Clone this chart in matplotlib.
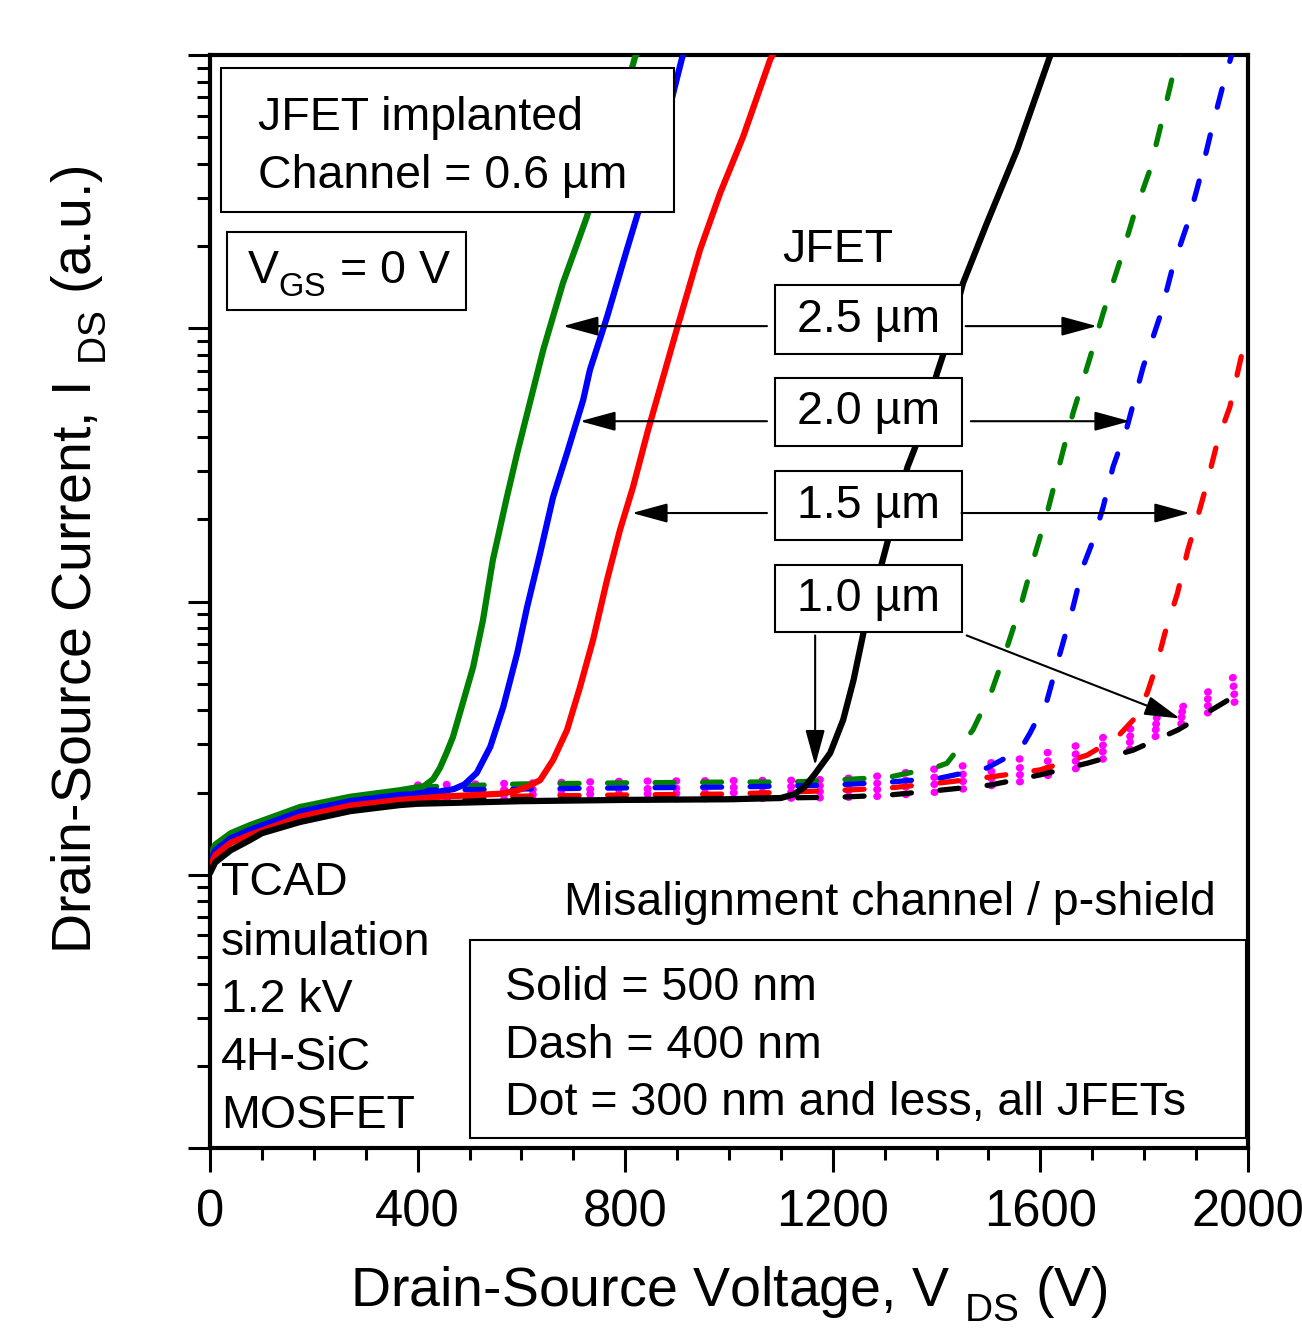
import matplotlib.pyplot as plt
from matplotlib.patches import Rectangle
from matplotlib.ticker import MultipleLocator, LogLocator, NullFormatter

plt.rcParams['font.family'] = ['Liberation Sans', 'DejaVu Sans']
plt.rcParams['mathtext.fontset'] = 'custom'
plt.rcParams['mathtext.rm'] = 'Liberation Sans'
plt.rcParams['mathtext.it'] = 'Liberation Sans:italic'
plt.rcParams['mathtext.bf'] = 'Liberation Sans:bold'

# drop subscripts a bit lower, like the original figure
try:
    import matplotlib._mathtext as _mt
    _mt.FontConstantsBase.sub1 = 0.55
    _mt.FontConstantsBase.sub2 = 0.7
except Exception:
    pass

# JFET widths: 2.5, 2.0, 1.5, 1.0 um
colors = ['#008000', '#0000ff', '#ff0000', '#000000']

# solid = 500 nm misalignment
v_sol_25 = [0, 10, 40, 77, 173, 270, 366, 412, 430, 443, 456, 468, 487, 507, 526, 545, 572, 592, 603, 642, 680, 726, 757, 790, 819, 830]
i_sol_25 = [11.6, 12.9, 14.2, 15.2, 17.7, 19.3, 20.4, 21.1, 22.4, 24.6, 28.0, 31.9, 42.5, 57.6, 85.6, 142, 241, 350, 424, 833, 1464, 2554, 4025, 6292, 9833, 11000]
v_sol_20 = [0, 10, 40, 77, 173, 270, 366, 424, 470, 490, 514, 540, 565, 592, 611, 636, 661, 688, 719, 732, 765, 803, 842, 881, 910, 925]
i_sol_20 = [11.1, 12.3, 13.6, 14.6, 17.0, 18.6, 19.6, 19.9, 20.6, 21.4, 23.6, 29.4, 41.1, 64.8, 95.5, 150, 241, 350, 546, 704, 1100, 1934, 3401, 5932, 9833, 11500]
v_sol_15 = [0, 10, 40, 77, 173, 270, 366, 443, 559, 590, 611, 636, 661, 688, 713, 738, 765, 790, 815, 844, 899, 944, 983, 1027, 1079, 1095]
i_sol_15 = [10.7, 11.8, 13.1, 14.0, 16.3, 17.9, 18.8, 19.3, 19.8, 20.3, 21.0, 22.2, 26.3, 33.9, 48.7, 72.3, 120, 183, 262, 424, 985, 1934, 3126, 5011, 9587, 11000]
v_sol_10 = [0, 10, 40, 77, 100, 173, 270, 366, 400, 600, 800, 1000, 1100, 1125, 1145, 1165, 1195, 1220, 1240, 1259, 1286, 1305, 1344, 1359, 1401, 1420, 1451, 1497, 1555, 1618, 1630]
i_sol_10 = [10.15, 11.1, 12.3, 13.4, 14.2, 15.6, 17.1, 18.0, 18.2, 18.6, 18.8, 18.9, 19.1, 19.7, 20.9, 23.3, 27.9, 36.9, 51.6, 76.7, 120, 164, 311, 368, 686, 883, 1464, 2428, 4490, 9833, 11000]

# dash = 400 nm misalignment
v_dsh_25 = [400, 600, 800, 1000, 1120, 1203, 1310, 1400, 1420, 1470, 1507, 1536, 1565, 1590, 1613, 1644, 1663, 1696, 1721, 1754, 1779, 1811, 1836, 1859, 1875]
i_dsh_25 = [20.95, 21.5, 21.7, 21.85, 21.85, 22.2, 22.8, 24.8, 25.6, 33.9, 47.5, 68.2, 101, 150, 211, 358, 490, 785, 1137, 1777, 2554, 3794, 5932, 9040, 11000]
v_dsh_20 = [400, 600, 800, 1000, 1200, 1310, 1407, 1497, 1561, 1580, 1613, 1638, 1663, 1682, 1702, 1721, 1740, 1767, 1798, 1830, 1855, 1884, 1908, 1931, 1956, 1975]
i_dsh_20 = [20.4, 20.6, 20.8, 20.95, 21.3, 21.85, 22.6, 24.6, 28.6, 33.0, 43.6, 64.8, 95.5, 134, 168, 222, 311, 435, 722, 1100, 1676, 2428, 3577, 5451, 8308, 11000]
v_dsh_15 = [400, 600, 800, 1000, 1220, 1310, 1407, 1503, 1599, 1690, 1748, 1779, 1806, 1825, 1840, 1864, 1884, 1903, 1919, 1942, 1965, 1990, 2000]
i_dsh_15 = [19.4, 19.4, 19.6, 19.75, 20.4, 20.8, 21.7, 22.8, 24.2, 27.4, 31.9, 36.9, 46.3, 59.6, 76.7, 107, 154, 204, 262, 390, 515, 833, 945]
v_dsh_10 = [400, 800, 1100, 1220, 1310, 1407, 1503, 1599, 1690, 1779, 1865, 1952, 2000]
i_dsh_10 = [18.8, 18.9, 19.1, 19.26, 19.6, 20.4, 21.3, 23.2, 25.6, 28.6, 33.9, 42.5, 48.3]

# dot = 300 nm and less (all JFETs)
v_dot = [400, 800, 1156, 1272, 1382, 1551, 1661, 1769, 1873, 1969, 2000]
i_dot_25 = [21.3, 22.0, 22.2, 22.8, 24.2, 26.3, 29.35, 33.9, 41.1, 52.5, 55.2]
i_dot_20 = [20.4, 20.6, 21.1, 21.5, 22.6, 24.4, 27.4, 31.9, 39.5, 48.7, 51.5]
i_dot_15 = [19.6, 19.75, 20.1, 20.4, 21.3, 23.0, 25.8, 30.35, 37.8, 45.4, 48.3]
i_dot_10 = [18.9, 18.9, 19.1, 19.3, 19.9, 21.7, 24.2, 28.6, 35.9, 42.5, 44.7]

jfet_labels = ['2.5 µm', '2.0 µm', '1.5 µm', '1.0 µm']

fig = plt.figure(figsize=(13.02, 13.30), dpi=100)
ax = fig.add_axes([0.1613, 0.1368, 0.7972, 0.8218])

for i_dot in [i_dot_25, i_dot_20, i_dot_15, i_dot_10]:
    ax.plot(v_dot, i_dot, color='#ff00ff', lw=5.3, linestyle=(0, (0.1, 3.8)),
            dash_capstyle='round', zorder=2)

dashed = [(v_dsh_25, i_dsh_25), (v_dsh_20, i_dsh_20), (v_dsh_15, i_dsh_15), (v_dsh_10, i_dsh_10)]
for (v, i), c in zip(dashed, colors):
    ax.plot(v, i, color=c, lw=3.8, linestyle=(0, (3.6, 5.4)), dash_capstyle='round', zorder=3)

solid = [(v_sol_25, i_sol_25), (v_sol_20, i_sol_20), (v_sol_15, i_sol_15), (v_sol_10, i_sol_10)]
for (v, i), c in zip(solid, colors):
    ax.plot(v, i, color=c, lw=4.5, solid_capstyle='round', solid_joinstyle='round', zorder=4)

ax.set_yscale('log')
ax.set_xlim(0, 2000)
ax.set_ylim(1, 1e4)
ax.xaxis.set_major_locator(MultipleLocator(400))
ax.xaxis.set_minor_locator(MultipleLocator(100))
ax.yaxis.set_major_locator(LogLocator(base=10))
ax.yaxis.set_minor_locator(LogLocator(base=10, subs=range(2, 10)))
ax.yaxis.set_major_formatter(NullFormatter())
ax.yaxis.set_minor_formatter(NullFormatter())

for s in ax.spines.values():
    s.set_linewidth(3)
ax.tick_params(axis='x', which='major', direction='out', length=17, width=2.2, labelsize=36.5, pad=12)
ax.tick_params(axis='x', which='minor', direction='out', length=8.5, width=2.2)
ax.tick_params(axis='y', which='major', direction='out', length=16, width=2.2)
ax.tick_params(axis='y', which='minor', direction='out', length=9.5, width=2.2)

ax.set_xlabel(r'Drain-Source Voltage, V $\mathregular{_{DS}}$ (V)', fontsize=40)
ax.xaxis.set_label_coords(0.5, -0.107)
ax.set_ylabel(r'Drain-Source Current, I $\mathregular{_{DS}}$ (a.u.)', fontsize=40)
ax.yaxis.set_label_coords(-0.097, 0.538)

fs = 33.5


def box(x0, y0, x1, y1):
    ax.add_patch(Rectangle((x0, y0), x1 - x0, y1 - y0, transform=ax.transAxes,
                           facecolor='white', edgecolor='black', lw=1.5, zorder=6))


# top-left info boxes
box(0.0106, 0.8564, 0.447, 0.9881)
ax.text(0.0462, 0.9314, 'JFET implanted', transform=ax.transAxes, fontsize=fs, va='baseline', zorder=7)
ax.text(0.0462, 0.8783, 'Channel = 0.6 µm', transform=ax.transAxes, fontsize=fs, va='baseline', zorder=7)
box(0.0164, 0.7667, 0.2466, 0.8381)
ax.text(0.0356, 0.7914, r'V$\mathregular{_{GS}}$ = 0 V', transform=ax.transAxes, fontsize=fs, va='baseline', zorder=7)

# JFET width labels with arrows
ax.text(0.551, 0.8106, 'JFET', transform=ax.transAxes, fontsize=fs, va='baseline', zorder=7)
box_y = [(0.7264, 0.7896), (0.6423, 0.7045), (0.5563, 0.6194), (0.4721, 0.5334)]
for lab, (y0, y1) in zip(jfet_labels, box_y):
    box(0.5443, y0, 0.7245, y1)
    ax.text(0.634, (y0 + y1) / 2, lab, transform=ax.transAxes, fontsize=fs,
            ha='center', va='center', zorder=7)

arrow_kw = dict(arrowstyle='-|>,head_length=1.1,head_width=0.3', color='black', lw=1.5,
                mutation_scale=20, shrinkA=0, shrinkB=0)
arrows = [
    ((0.5366, 0.752), (0.340, 0.752)),
    ((0.728, 0.752), (0.8545, 0.752)),
    ((0.5366, 0.665), (0.3565, 0.665)),
    ((0.733, 0.665), (0.8863, 0.665)),
    ((0.5366, 0.581), (0.4066, 0.581)),
    ((0.724, 0.581), (0.944, 0.581)),
    ((0.583, 0.469), (0.583, 0.350)),
    ((0.729, 0.469), (0.9345, 0.393)),
]
for tail, tip in arrows:
    ax.annotate('', xy=tip, xytext=tail, xycoords='axes fraction', textcoords='axes fraction',
                arrowprops=arrow_kw, zorder=7)

# bottom-left device description
desc = ['TCAD', 'simulation', '1.2 kV', '4H-SiC', 'MOSFET']
desc_y = [0.2315, 0.1766, 0.1244, 0.0714, 0.0183]
for t, y in zip(desc, desc_y):
    ax.text(0.0106, y, t, transform=ax.transAxes, fontsize=fs, va='baseline', zorder=7)

# misalignment legend
ax.text(0.341, 0.2132, 'Misalignment channel / p-shield', transform=ax.transAxes,
        fontsize=fs, va='baseline', zorder=7)
box(0.2505, 0.0092, 0.998, 0.1903)
legend_lines = ['Solid = 500 nm', 'Dash = 400 nm', 'Dot = 300 nm and less, all JFETs']
legend_y = [0.1354, 0.0823, 0.0302]
for t, y in zip(legend_lines, legend_y):
    ax.text(0.284, y, t, transform=ax.transAxes, fontsize=fs, va='baseline', zorder=7)

fig.savefig('out.png', dpi=100)
